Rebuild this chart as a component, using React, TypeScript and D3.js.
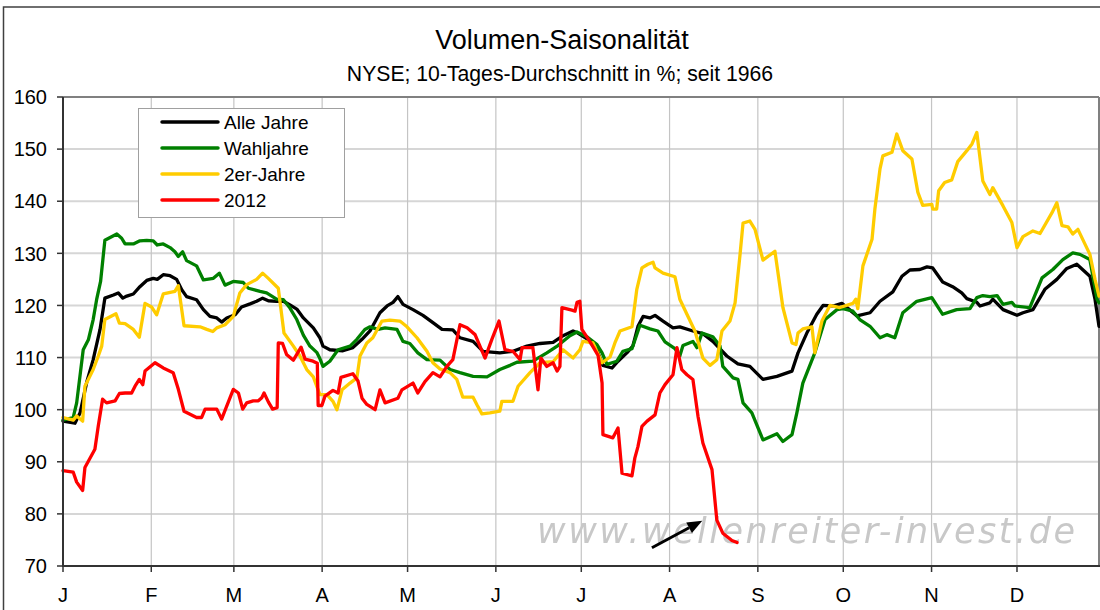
import * as d3 from 'd3';

// x values are days since Jan 1 (2012), y values are volume in %
const monthLabels = ['J', 'F', 'M', 'A', 'M', 'J', 'J', 'A', 'S', 'O', 'N', 'D'];
const yTicks = [70, 80, 90, 100, 110, 120, 130, 140, 150, 160];
const lastDay = 363.8;

const alleJahre: [number, number][] = [
  [0, 97.8], [4.2, 97.4], [6.0, 99.4], [8.3, 105.2], [10.6, 109.6], [13.0, 115.4], [14.7, 121.4], [17.7, 122.0],
  [19.4, 122.4], [21.0, 121.4], [22.4, 121.8], [24.7, 122.2], [27.0, 123.6], [29.4, 124.8], [31.7, 125.2], [33.1, 125.0],
  [35.2, 125.9], [37.6, 125.7], [39.9, 125.0], [41.7, 123.0], [43.4, 121.7], [46.9, 121.1], [49.3, 119.2], [51.6, 117.9],
  [54.0, 117.6], [55.7, 116.8], [57.5, 117.6], [60.4, 118.2], [62.7, 119.7], [65.7, 120.3], [68.0, 120.8], [70.1, 121.4],
  [72.1, 120.9], [75.0, 120.8], [77.4, 120.8], [79.7, 120.1], [82.1, 119.3], [84.4, 117.6], [87.9, 115.7], [90.2, 113.8],
  [91.3, 112.2], [93.7, 111.5], [98.3, 111.3], [101.8, 111.9], [105.0, 113.5], [107.8, 115.1], [111.3, 118.6], [113.8, 119.9],
  [115.9, 120.6], [117.6, 121.7], [119.4, 120.2], [122.9, 119.2], [126.4, 118.1], [129.9, 116.7], [133.1, 115.4], [136.9, 115.3],
  [139.4, 113.8], [144.0, 113.1], [147.5, 111.2], [153.4, 110.9], [158.0, 111.2], [162.9, 112.2], [167.5, 112.7], [172.1, 112.9],
  [175.6, 114.2], [179.1, 115.1], [180.8, 114.7], [184.0, 113.6], [187.5, 111.5], [189.6, 108.5], [192.8, 108.0], [194.9, 109.3],
  [198.0, 110.9], [200.1, 112.2], [201.9, 116.0], [203.7, 117.9], [206.1, 117.6], [207.9, 118.1], [210.7, 117.0], [214.2, 115.7],
  [216.6, 115.9], [221.2, 115.1], [224.7, 114.6], [228.2, 113.1], [233.1, 110.3], [237.0, 108.8], [241.2, 108.3], [245.8, 105.8],
  [250.7, 106.4], [256.0, 107.4], [258.1, 110.9], [261.2, 114.7], [264.7, 118.3], [266.9, 120.0], [270.4, 119.9], [273.5, 120.4],
  [278.8, 118.0], [283.4, 118.6], [286.9, 120.8], [291.4, 122.6], [294.6, 125.6], [297.4, 126.8], [300.9, 126.9], [303.4, 127.4],
  [305.4, 127.2], [308.9, 124.5], [312.4, 123.6], [315.6, 122.4], [317.4, 121.3], [320.9, 120.6], [322.0, 119.9], [325.5, 120.5],
  [326.5, 121.2], [330.1, 119.2], [335.0, 118.1], [337.1, 118.6], [340.6, 119.2], [344.8, 123.1], [349.0, 125.0], [352.5, 127.1],
  [356.0, 127.9], [360.6, 125.6], [362.4, 121.2], [363.8, 116.0],
];

const wahljahre: [number, number][] = [
  [0, 98.0], [3.6, 98.5], [4.8, 101.3], [7.1, 111.5], [8.9, 113.4], [10.6, 117.3], [11.8, 121.1], [13.2, 124.6],
  [14.7, 132.5], [18.9, 133.7], [20.6, 132.9], [21.8, 131.8], [24.7, 131.8], [27.0, 132.4], [29.4, 132.5], [31.7, 132.4],
  [33.1, 131.6], [35.2, 131.8], [37.6, 131.1], [39.3, 130.3], [40.5, 129.4], [42.0, 130.3], [43.4, 128.6], [46.9, 127.6],
  [49.3, 124.9], [52.8, 125.2], [54.9, 126.2], [56.9, 123.9], [59.8, 124.6], [63.3, 124.4], [65.1, 123.3], [69.2, 122.7],
  [71.5, 122.4], [75.0, 121.2], [77.4, 121.1], [79.7, 119.5], [82.1, 117.3], [84.4, 114.3], [86.7, 112.2], [89.1, 111.0],
  [90.2, 109.8], [91.3, 108.3], [93.7, 109.3], [96.6, 111.5], [100.8, 112.2], [103.2, 113.5], [106.0, 115.4], [107.8, 115.9],
  [110.6, 115.4], [113.1, 115.7], [117.3, 115.4], [119.4, 113.1], [121.8, 112.7], [124.6, 110.9], [127.8, 109.6], [132.4, 109.5],
  [135.9, 107.7], [139.4, 107.1], [144.0, 106.4], [148.9, 106.3], [153.4, 107.7], [157.0, 108.5], [159.4, 109.1], [165.0, 109.3],
  [169.9, 110.9], [173.8, 112.3], [178.0, 114.2], [180.5, 114.9], [184.0, 114.0], [187.5, 112.5], [189.3, 110.9], [191.0, 108.7],
  [194.5, 109.3], [196.6, 111.2], [199.8, 111.7], [202.6, 116.2], [206.1, 115.5], [208.9, 115.1], [211.4, 113.0], [214.9, 111.7],
  [216.6, 110.3], [217.7, 112.3], [221.2, 113.1], [222.6, 111.9], [224.4, 114.7], [228.2, 114.0], [230.7, 112.2], [231.7, 108.3],
  [235.3, 106.1], [237.0, 105.8], [238.8, 101.3], [241.9, 99.4], [245.8, 94.2], [250.7, 95.4], [252.8, 93.9], [256.0, 95.2],
  [257.7, 99.4], [259.8, 105.1], [264.0, 110.9], [267.6, 117.3], [271.8, 119.2], [273.9, 119.4], [277.4, 118.9], [279.8, 117.3],
  [283.4, 116.0], [286.9, 113.8], [289.3, 114.4], [292.1, 113.8], [294.9, 118.6], [299.8, 120.8], [305.1, 121.5], [308.9, 118.3],
  [313.8, 119.2], [318.5, 119.4], [320.9, 121.5], [323.0, 121.9], [325.5, 121.7], [328.0, 121.9], [330.1, 120.2], [333.2, 120.6],
  [334.3, 119.9], [339.5, 119.6], [343.8, 125.3], [347.6, 126.9], [351.1, 128.8], [354.6, 130.1], [357.1, 129.8], [360.6, 128.8],
  [363.1, 121.2], [363.8, 120.5],
];

const zweierJahre: [number, number][] = [
  [0, 98.5], [3.6, 98.0], [4.8, 98.8], [6.9, 97.8], [7.7, 104.5], [10.6, 107.7], [12.4, 110.3], [13.6, 112.2],
  [14.7, 117.3], [18.6, 118.4], [19.8, 116.6], [21.8, 116.5], [24.7, 115.4], [26.8, 113.9], [28.8, 120.4], [31.1, 119.7],
  [32.9, 118.2], [35.2, 122.2], [39.3, 122.7], [40.5, 123.8], [42.5, 116.1], [48.1, 115.9], [50.5, 115.4], [52.6, 115.0],
  [54.0, 115.7], [56.9, 116.3], [59.8, 117.9], [62.1, 122.4], [64.5, 124.0], [68.0, 125.0], [70.1, 126.2], [72.1, 125.2],
  [75.6, 123.3], [77.6, 114.7], [80.9, 112.2], [83.2, 110.3], [85.6, 107.7], [87.9, 106.3], [90.2, 102.9], [92.7, 102.9],
  [94.8, 101.6], [96.2, 100.0], [98.0, 103.8], [100.8, 105.1], [103.2, 106.1], [104.3, 110.3], [106.7, 112.8], [108.8, 113.8],
  [112.0, 117.0], [114.8, 117.2], [118.3, 117.0], [120.8, 115.9], [124.3, 113.8], [127.8, 111.2], [129.9, 109.0], [132.4, 107.8],
  [135.9, 107.1], [138.3, 105.8], [140.4, 102.4], [144.0, 102.4], [145.4, 100.9], [147.1, 99.2], [149.9, 99.4], [153.4, 99.7],
  [154.1, 101.6], [158.0, 101.6], [159.8, 104.5], [164.0, 107.1], [167.5, 109.0], [172.1, 109.2], [175.6, 111.5], [179.1, 109.9],
  [181.5, 111.5], [182.6, 113.1], [186.1, 112.8], [189.3, 109.0], [192.1, 110.1], [193.8, 112.8], [195.6, 115.1], [199.8, 115.9],
  [201.5, 123.1], [203.3, 127.2], [205.4, 127.9], [207.2, 128.3], [207.9, 127.2], [210.7, 126.2], [214.9, 125.5], [216.6, 121.2],
  [219.1, 118.3], [221.9, 115.1], [224.7, 109.9], [227.2, 108.5], [229.6, 109.6], [231.4, 115.1], [234.2, 117.0], [236.0, 120.5],
  [237.7, 129.5], [238.8, 135.8], [241.2, 136.2], [243.0, 134.6], [245.8, 128.7], [250.0, 130.4], [252.8, 119.6], [256.0, 112.8],
  [257.4, 112.5], [258.1, 114.7], [259.8, 115.5], [263.0, 115.9], [264.0, 110.9], [266.5, 117.0], [269.3, 120.0], [272.8, 119.6],
  [277.4, 120.4], [278.4, 121.2], [279.1, 119.4], [280.9, 127.6], [284.1, 132.7], [285.1, 138.5], [286.9, 146.2], [287.9, 148.7],
  [291.1, 149.4], [292.8, 152.9], [294.9, 149.7], [298.1, 148.1], [300.2, 141.7], [301.9, 139.2], [305.1, 139.4], [305.4, 138.5],
  [306.8, 138.5], [307.5, 142.0], [309.6, 143.6], [312.1, 144.1], [314.2, 147.6], [317.4, 149.7], [319.2, 151.0], [320.9, 153.2],
  [323.0, 143.9], [325.5, 141.3], [326.5, 142.6], [330.1, 139.1], [333.2, 135.9], [335.0, 131.1], [337.1, 133.2], [340.6, 134.3],
  [343.1, 133.8], [347.3, 137.8], [349.0, 139.7], [350.8, 135.3], [352.9, 135.1], [354.6, 133.7], [356.4, 134.6], [360.6, 129.8],
  [362.4, 125.0], [363.8, 121.8],
];

const jahr2012: [number, number][] = [
  [0, 88.3], [3.6, 88.0], [4.8, 86.1], [6.9, 84.5], [7.7, 88.9], [11.2, 92.4], [12.4, 96.9], [13.9, 102.0],
  [15.3, 101.3], [18.3, 101.7], [19.8, 103.1], [21.8, 103.2], [24.1, 103.2], [25.3, 104.5], [26.8, 105.8], [28.0, 104.8],
  [28.8, 107.4], [32.3, 109.0], [35.2, 108.0], [38.7, 107.1], [40.5, 103.9], [42.5, 99.7], [46.9, 98.5], [48.7, 98.5],
  [49.9, 100.1], [54.0, 100.1], [55.7, 98.2], [59.8, 103.9], [61.6, 103.2], [63.1, 100.1], [64.5, 101.3], [66.8, 101.7],
  [68.6, 101.7], [69.8, 102.3], [70.6, 103.2], [72.1, 101.5], [73.6, 100.1], [75.2, 100.4], [75.6, 112.8], [77.1, 112.7],
  [78.5, 110.6], [80.9, 109.5], [83.6, 112.0], [85.0, 109.7], [87.8, 109.3], [89.3, 108.9], [89.6, 100.8], [90.9, 100.8],
  [92.0, 102.6], [94.8, 103.7], [96.6, 103.2], [97.6, 106.2], [101.8, 106.9], [103.6, 105.5], [105.0, 102.2], [106.7, 101.0],
  [109.6, 100.0], [111.3, 103.8], [113.1, 101.3], [117.6, 102.2], [119.0, 103.8], [122.9, 105.1], [124.6, 103.2], [127.1, 105.4],
  [129.9, 107.1], [132.4, 106.3], [134.8, 108.3], [136.9, 109.6], [139.4, 116.3], [141.9, 115.7], [144.7, 114.4], [148.2, 109.9],
  [150.6, 113.5], [153.1, 117.0], [155.2, 111.5], [158.0, 111.2], [160.5, 109.6], [161.2, 111.9], [165.0, 111.9], [166.8, 103.8],
  [167.8, 109.9], [169.9, 108.3], [172.1, 109.0], [173.5, 107.4], [174.5, 108.3], [175.2, 119.6], [178.7, 119.1], [179.8, 118.9],
  [180.5, 120.6], [181.5, 120.8], [182.2, 115.4], [185.0, 113.1], [187.9, 110.4], [189.3, 105.1], [189.6, 95.2], [193.1, 94.6],
  [194.9, 96.5], [196.3, 87.8], [199.8, 87.3], [200.8, 90.7], [201.9, 92.9], [203.3, 96.8], [205.1, 97.8], [207.9, 99.0],
  [209.6, 103.2], [211.4, 104.8], [214.2, 106.7], [215.6, 111.9], [217.3, 107.7], [219.1, 106.7], [221.2, 105.8], [223.0, 98.7],
  [224.7, 93.6], [227.9, 88.5], [229.6, 78.8], [231.7, 76.3], [234.9, 74.9], [236.7, 74.5],
];

const series = [
  { name: 'Alle Jahre', color: '#000000', data: alleJahre },
  { name: 'Wahljahre', color: '#008000', data: wahljahre },
  { name: '2er-Jahre', color: '#ffcc00', data: zweierJahre },
  { name: '2012', color: '#ff0000', data: jahr2012 },
];

// arrow pointing at the 2012 low (day, value)
const arrowFrom: [number, number] = [206.8, 73.5];
const arrowTo: [number, number] = [224.5, 78.7];

const font = '"Liberation Sans", Arial, sans-serif';

const start = new Date(Date.UTC(2012, 0, 1));
const toDate = (day: number) => new Date(start.getTime() + day * 86400000);

export default function App() {
  const margin = { top: 97, right: 1, bottom: 44, left: 63 };
  const width = 1100;
  const height = 610;

  const x = d3.scaleUtc()
    .domain([start, toDate(lastDay)])
    .range([margin.left, width - margin.right]);
  const y = d3.scaleLinear()
    .domain([70, 160])
    .range([height - margin.bottom, margin.top]);

  const line = d3.line<[number, number]>()
    .x(d => x(toDate(d[0])))
    .y(d => y(d[1]));

  const months = d3.utcMonth.range(start, toDate(lastDay));
  const x0 = x.range()[0];
  const x1 = x.range()[1];
  const y0 = y.range()[0];
  const y1 = y.range()[1];

  const ax1 = x(toDate(arrowFrom[0]));
  const ay1 = y(arrowFrom[1]);
  const ax2 = x(toDate(arrowTo[0]));
  const ay2 = y(arrowTo[1]);
  const ang = Math.atan2(ay2 - ay1, ax2 - ax1);
  const headLen = 15;
  const headW = 6;
  const bx = ax2 - headLen * Math.cos(ang);
  const by = ay2 - headLen * Math.sin(ang);
  const head = [
    [ax2, ay2],
    [bx + headW * Math.sin(ang), by - headW * Math.cos(ang)],
    [bx - headW * Math.sin(ang), by + headW * Math.cos(ang)],
  ].map(p => p.join(',')).join(' ');

  const legendX = 138;
  const legendY = 108;

  return (
    <svg width={width} height={height} style={{ position: 'absolute', left: 0, top: 0, background: '#fff' }}
      fontFamily={font}>
      <defs>
        <filter id="soft" x="-5%" y="-20%" width="110%" height="140%">
          <feGaussianBlur stdDeviation="0.7" />
        </filter>
      </defs>
      <rect x={3.5} y={7} width={1200} height={700} fill="#fff" stroke="#404040" strokeWidth={1.5} />

      <text x={562} y={49} textAnchor="middle" fontSize={27}>Volumen-Saisonalität</text>
      <text x={560} y={81} textAnchor="middle" fontSize={21.2}>NYSE; 10-Tages-Durchschnitt in %; seit 1966</text>

      {/* grid */}
      {yTicks.map(t => (
        <line key={'h' + t} x1={x0} x2={x1} y1={y(t)} y2={y(t)} stroke="#d6d6d6" strokeWidth={2} />
      ))}
      {months.map((m, i) => (
        <line key={'v' + i} x1={x(m)} x2={x(m)} y1={y1} y2={y0} stroke="#c4c4c4" strokeWidth={1.2} />
      ))}

      {/* plot frame */}
      <line x1={x0} x2={x1} y1={y1} y2={y1} stroke="#808080" strokeWidth={2} />
      <line x1={x1} x2={x1} y1={y1} y2={y0} stroke="#808080" strokeWidth={2} />

      {/* watermark */}
      <text x={537} y={543} fontFamily='"DejaVu Sans", Verdana, sans-serif' fontSize={35} fontStyle="italic"
        textLength={538} lengthAdjust="spacing" fill="#c8c8c8" filter="url(#soft)">
        www.wellenreiter-invest.de
      </text>

      {/* series */}
      {series.map(s => (
        <path key={s.name} d={line(s.data) ?? ''} fill="none" stroke={s.color} strokeWidth={3.3}
          strokeLinejoin="round" strokeLinecap="round" />
      ))}

      {/* axes */}
      <line x1={x0} x2={x0} y1={y1} y2={y0 + 1} stroke="#333" strokeWidth={2} />
      <line x1={x0 - 1} x2={x1 + 1} y1={y0} y2={y0} stroke="#333" strokeWidth={2} />
      {yTicks.map(t => (
        <g key={'yt' + t}>
          <line x1={x0 - 6} x2={x0} y1={y(t)} y2={y(t)} stroke="#333" strokeWidth={1.5} />
          <text x={x0 - 16} y={y(t)} dy="0.36em" textAnchor="end" fontSize={20}>{t}</text>
        </g>
      ))}
      {months.map((m, i) => (
        <g key={'xt' + i}>
          <line x1={x(m)} x2={x(m)} y1={y0} y2={y0 + 6} stroke="#333" strokeWidth={1.5} />
          <text x={x(m)} y={y0 + 36} textAnchor="middle" fontSize={20}>{monthLabels[i]}</text>
        </g>
      ))}

      {/* arrow */}
      <line x1={ax1} y1={ay1} x2={bx} y2={by} stroke="#000" strokeWidth={3} />
      <polygon points={head} fill="#000" />

      {/* legend */}
      <rect x={legendX + 0.5} y={legendY + 0.5} width={206} height={109} fill="#fff" stroke="#a0a0a0" strokeWidth={1} />
      {series.map((s, i) => {
        const ly = legendY + 14 + i * 26;
        return (
          <g key={'lg' + s.name}>
            <line x1={legendX + 24} x2={legendX + 80} y1={ly} y2={ly} stroke={s.color} strokeWidth={3.5}
              strokeLinecap="round" />
            <text x={legendX + 86} y={ly} dy="0.36em" fontSize={19}>{s.name}</text>
          </g>
        );
      })}
    </svg>
  );
}
